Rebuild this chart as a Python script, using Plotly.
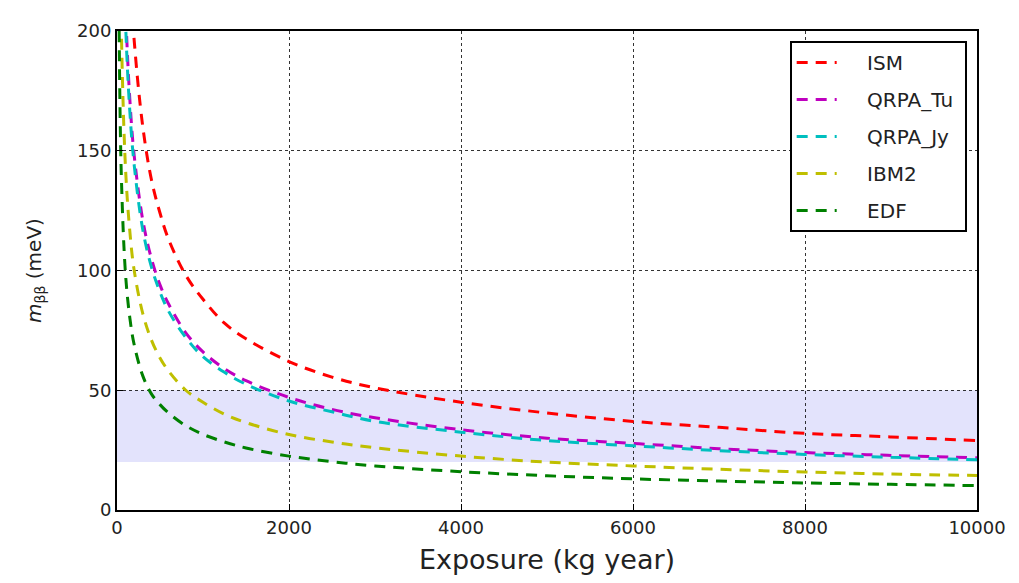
import plotly.graph_objects as go

exposure = [25, 50, 100, 150, 200, 300, 400, 500, 600, 800, 1000, 1250, 1500, 2000,
            2500, 3000, 4000, 5000, 6000, 7000, 8000, 9000, 10000]

ism = [554, 392, 277, 226, 196, 160, 138, 124, 113, 98, 88, 78, 71.5, 62,
       55.5, 51, 45, 40.5, 37, 34.5, 32, 30.5, 29]
qrpa_tu = [420, 297, 210, 171, 148, 121, 105, 94, 86, 74, 66, 59, 54, 47,
           42, 38.5, 33.5, 30, 27.8, 25.6, 24, 22.8, 21.8]
qrpa_jy = [406, 287, 203, 166, 144, 117, 101.5, 91, 83, 72, 64, 57.5, 52.5, 45.5,
           41, 37, 32.5, 29, 26.8, 24.8, 23.2, 22, 21]
ibm2 = [284, 201, 142, 116, 100, 82, 71, 63.5, 58, 50, 45, 40, 36.5, 31.5,
        28.4, 26, 22.5, 20, 18.4, 17, 15.9, 15, 14.4]
edf = [200, 140, 98, 80, 69, 56, 48.5, 44, 40.5, 35.2, 31.6, 28.4, 25.9, 22.5,
       20.2, 18.4, 16, 14.3, 13, 12.1, 11.3, 10.7, 10.2]

names = ["ISM", "QRPA_Tu", "QRPA_Jy", "IBM2", "EDF"]
series = [ism, qrpa_tu, qrpa_jy, ibm2, edf]
colors = ["#ff0000", "#bf00bf", "#00bfbf", "#bfbf00", "#008000"]

x_ticks = [0, 2000, 4000, 6000, 8000, 10000]
y_ticks = [0, 50, 100, 150, 200]
band_low, band_high = 20, 50
x_range = [0, 10000]
y_range = [0, 200]

fig = go.Figure()

fig.add_hrect(y0=band_low, y1=band_high, fillcolor="rgba(0,0,230,0.11)",
              line_width=0, layer="below")

pad = "\u00a0" * 4
for name, vals, col in zip(names, series, colors):
    fig.add_trace(go.Scatter(
        x=exposure, y=vals, mode="lines", name=pad + name + "\u00a0", legendgroup=name,
        line=dict(color=col, width=3, dash="11px,8px", shape="spline"),
    ))

axis_common = dict(
    showline=True, linecolor="black", linewidth=2, mirror=True,
    showgrid=True, gridcolor="rgba(0,0,0,0.8)", griddash="dot", gridwidth=1,
    ticks="inside", ticklen=6, tickcolor="black", zeroline=False,
    tickfont=dict(family="DejaVu Sans", size=18, color="#222"),
)

fig.update_xaxes(range=x_range, tickvals=x_ticks, ticktext=[str(v) for v in x_ticks],
                 title=dict(text="Exposure (kg year)",
                            font=dict(family="DejaVu Sans", size=27, color="#222"),
                            standoff=14), **axis_common)
fig.update_yaxes(range=y_range, tickvals=y_ticks, ticktext=[str(v) for v in y_ticks],
                 title=dict(text="<i>m</i><sub>ββ</sub> (meV)",
                            font=dict(family="DejaVu Sans", size=20, color="#222"),
                            standoff=30), **axis_common)

fig.update_layout(
    width=1019, height=583,
    margin=dict(l=109, r=50, t=17, b=81),
    plot_bgcolor="white", paper_bgcolor="white",
    legend=dict(x=0.988, y=0.979, xanchor="right", yanchor="top",
                bgcolor="white", bordercolor="black", borderwidth=2,
                font=dict(family="DejaVu Sans", size=20, color="#222"),
                tracegroupgap=8, itemwidth=40),
    showlegend=True,
)

fig.write_html("out.html")
